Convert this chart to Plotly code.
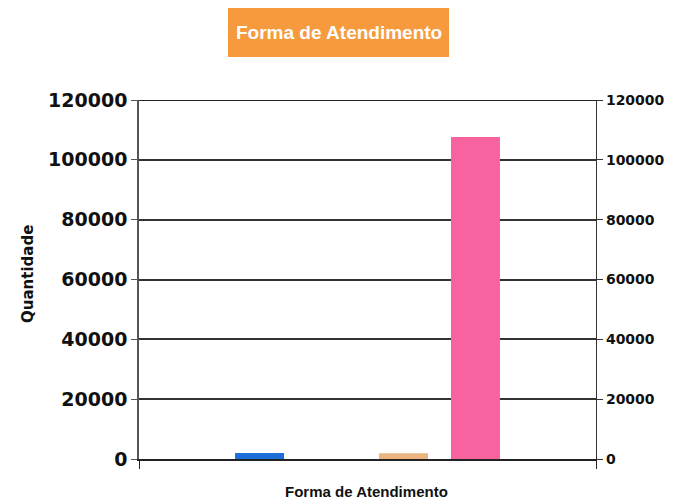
import plotly.graph_objects as go

categories = ["Forma de Atendimento"]
series_names = ["Série 1", "Série 2", "Série 3", "Série 4", "Série 5", "Série 6"]
series_values = [0, 2000, 0, 1900, 107600, 0]
series_colors = ["#4F81BD", "#1A6FD8", "#9BBB59", "#EBB37F", "#F7639F", "#8064A2"]
y_ticks = [0, 20000, 40000, 60000, 80000, 100000, 120000]

fig = go.Figure()
for name, val, col in zip(series_names, series_values, series_colors):
    fig.add_trace(go.Bar(x=categories, y=[val], name=name, marker=dict(color=col, line=dict(width=0))))
# invisible trace to activate right axis
fig.add_trace(go.Scatter(x=categories, y=[0], yaxis="y2", mode="markers",
                         marker=dict(opacity=0), showlegend=False, hoverinfo="skip"))

tick_font_left = dict(family="DejaVu Sans", size=19, color="#111")
tick_font_right = dict(family="DejaVu Sans", size=14, color="#111")

# page has an 8px body margin: figure is sized to fit inside it
fig.update_layout(
    width=667, height=494,
    margin=dict(l=131, r=79, t=92, b=43, autoexpand=False),
    paper_bgcolor="white", plot_bgcolor="white",
    showlegend=False,
    barmode="group", bargap=0.055, bargroupgap=0.32,
    xaxis=dict(showticklabels=False, showline=True, linecolor="#222", linewidth=1.5,
               ticks="outside", tickson="boundaries", ticklen=8, tickcolor="#222",
               showgrid=False, zeroline=False, automargin=False),
    yaxis=dict(range=[0, 120000], tickvals=y_ticks, ticktext=[f"<b>{v}</b>" for v in y_ticks],
               showline=True, linecolor="#555", linewidth=1.5,
               ticks="outside", ticklen=6, tickcolor="#555", tickfont=tick_font_left,
               showgrid=True, gridcolor="#333", gridwidth=1.5, zeroline=False, automargin=False),
    yaxis2=dict(range=[0, 120000], tickvals=y_ticks, ticktext=[f"<b>{v}</b>" for v in y_ticks],
                overlaying="y", side="right",
                showline=True, linecolor="#333", linewidth=1.2,
                ticks="outside", ticklen=6, tickcolor="#333", tickfont=tick_font_right,
                showgrid=False, zeroline=False, automargin=False),
    shapes=[
        dict(type="rect", xref="paper", yref="paper",
             x0=(228 - 139) / 457, x1=(449 - 139) / 457,
             y0=(459 - 57) / 359, y1=(459 - 8) / 359,
             fillcolor="#F79A3E", line=dict(width=0), layer="above"),
        # top gridline at the highest tick
        dict(type="line", xref="paper", yref="y", x0=0, x1=1,
             y0=y_ticks[-1], y1=y_ticks[-1], line=dict(color="#222", width=2), layer="below"),
    ],
    annotations=[
        dict(text="<b>Forma de Atendimento</b>", xref="paper", yref="paper",
             x=(338.5 - 139) / 457, y=(459 - 33) / 359, showarrow=False,
             xanchor="center", yanchor="middle",
             font=dict(family="Liberation Sans", size=19, color="white")),
        dict(text="<b>Forma de Atendimento</b>", xref="paper", yref="paper",
             x=(366 - 139) / 457, y=(459 - 491) / 359, showarrow=False,
             xanchor="center", yanchor="middle",
             font=dict(family="Liberation Sans", size=15, color="#111")),
        dict(text="<b>Quantidade</b>", xref="paper", yref="paper",
             x=(28 - 139) / 457, y=(459 - 274) / 359, showarrow=False, textangle=-90,
             xanchor="center", yanchor="middle",
             font=dict(family="DejaVu Sans", size=15, color="#111")),
    ],
)

fig.write_html("out.html")
